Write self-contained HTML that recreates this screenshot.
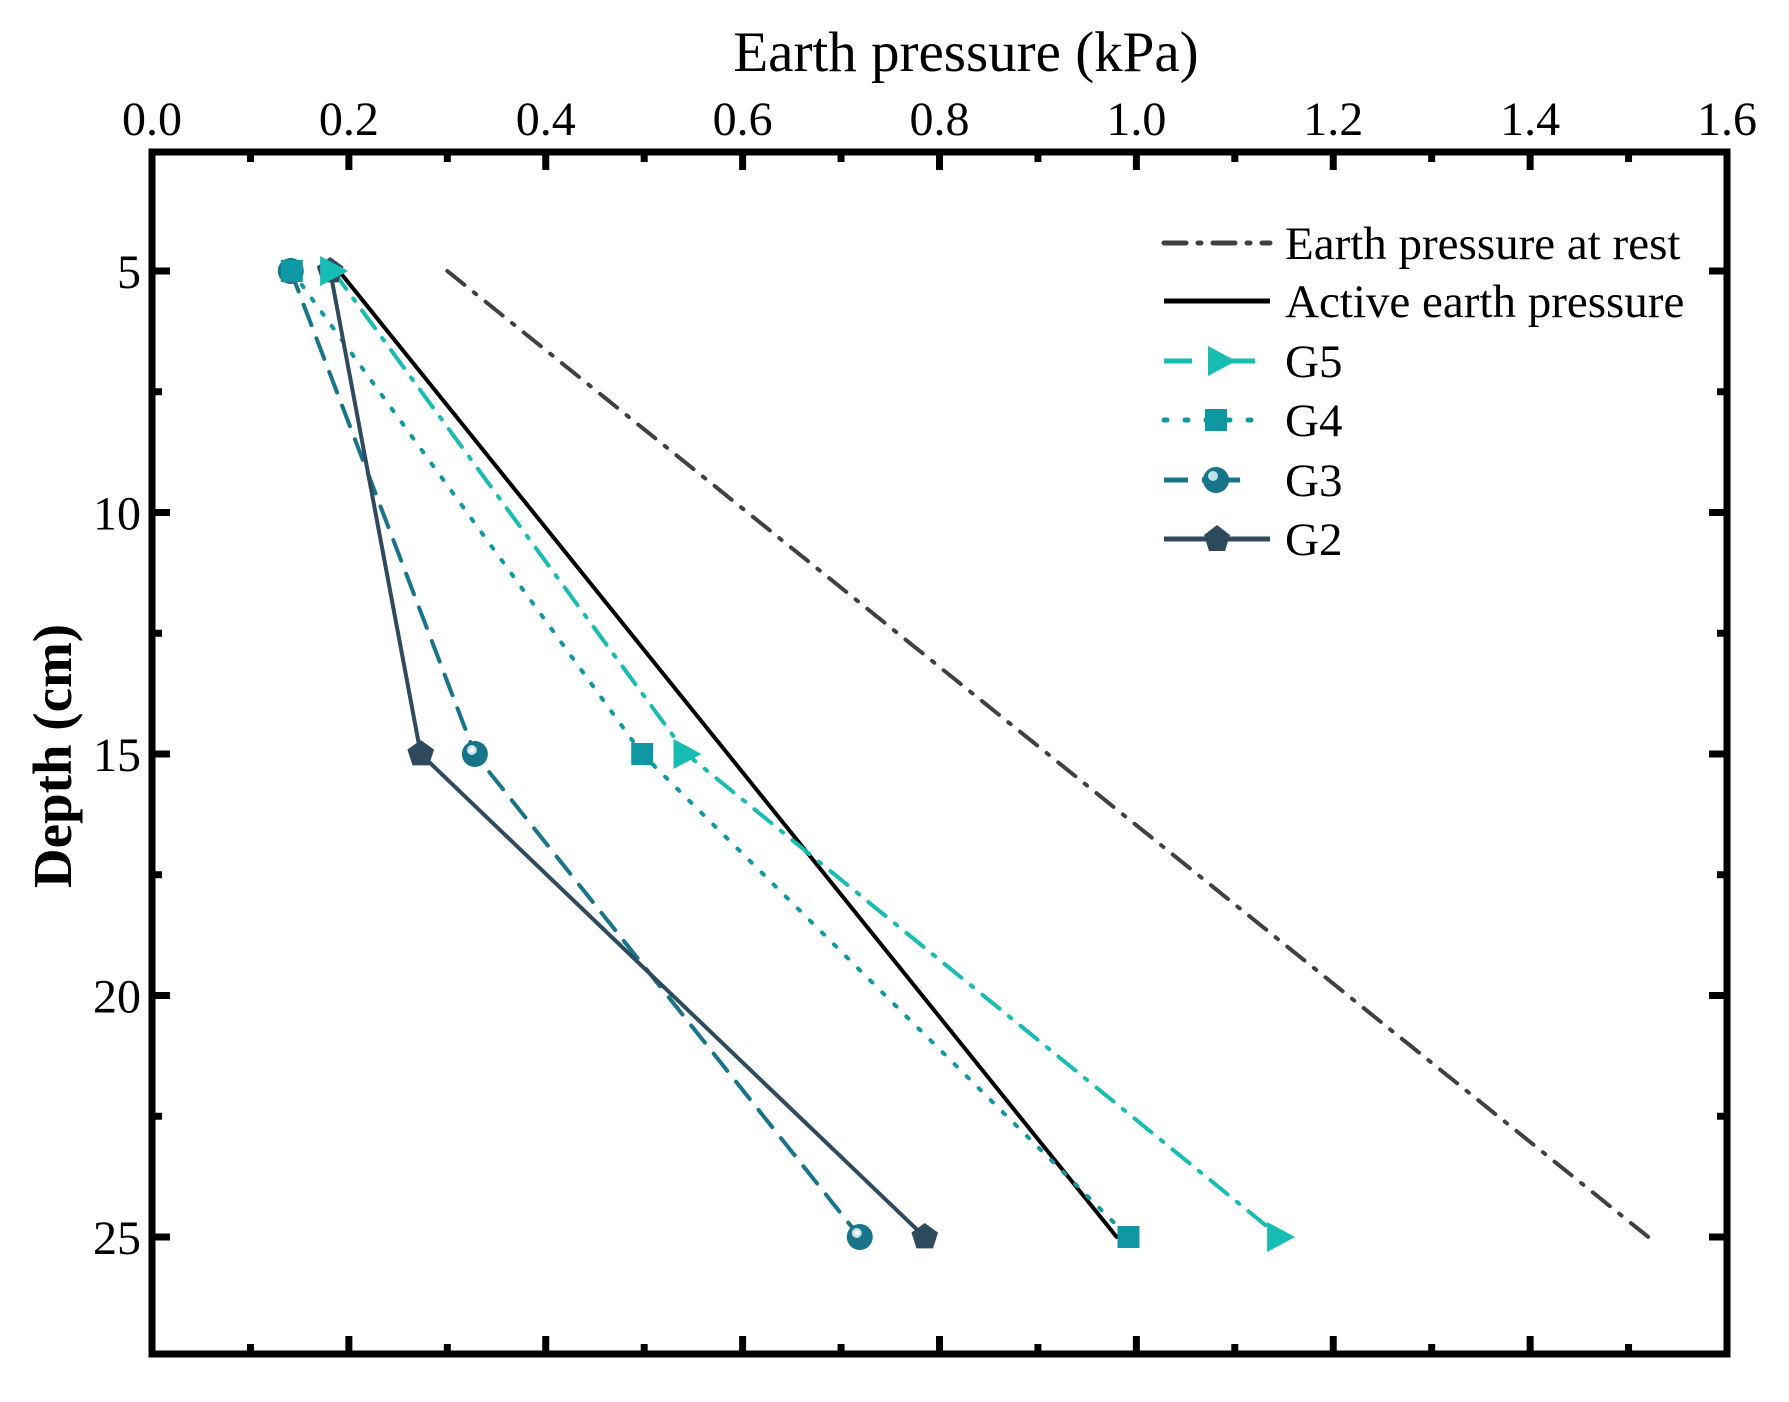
<!DOCTYPE html>
<html><head><meta charset="utf-8"><style>
html,body{margin:0;padding:0;background:#fff}
svg{display:block;font-family:"Liberation Serif",serif}
</style></head><body>
<svg id="chart" width="1789" height="1402" viewBox="0 0 1789 1402" xmlns="http://www.w3.org/2000/svg">
<g id="plot"></g>
<text x="966" y="71" font-size="57" text-anchor="middle" font-family="Liberation Serif, serif">Earth pressure (kPa)</text>
<text transform="translate(71,756) rotate(-90)" font-size="55" font-weight="bold" text-anchor="middle" font-family="Liberation Serif, serif">Depth (cm)</text>
<g font-family="Liberation Serif, serif" font-size="47">
  <g>
    <line x1="1164" y1="243" x2="1270" y2="243" stroke="#404040" stroke-width="5" stroke-dasharray="22,12,3,12" stroke-linecap="round"/>
    <text x="1285" y="259">Earth pressure at rest</text>
  </g>
  <g>
    <line x1="1164" y1="301" x2="1270" y2="301" stroke="#000" stroke-width="5"/>
    <text x="1285" y="317">Active earth pressure</text>
  </g>
  <g>
    <line x1="1164" y1="361" x2="1260" y2="361" stroke="#17BDB2" stroke-width="5" stroke-dasharray="28,16,3,16"/>
    <polygon points="1208,346 1236,361 1208,376" fill="#17BDB2"/>
    <text x="1285" y="377">G5</text>
  </g>
  <g>
    <line x1="1164" y1="420" x2="1266" y2="420" stroke="#0F97A3" stroke-width="5" stroke-dasharray="3,18" stroke-linecap="round"/>
    <rect x="1205" y="409" width="22" height="22" fill="#0F97A3"/>
    <text x="1285" y="436">G4</text>
  </g>
  <g>
    <line x1="1164" y1="480" x2="1188" y2="480" stroke="#177489" stroke-width="5"/>
    <line x1="1202" y1="480" x2="1240" y2="480" stroke="#177489" stroke-width="5"/>
    <circle cx="1216" cy="480" r="13" fill="#177489"/>
    <circle cx="1213" cy="476" r="5" fill="#bfe3ea"/>
    <text x="1285" y="496">G3</text>
  </g>
  <g>
    <line x1="1164" y1="539" x2="1270" y2="539" stroke="#2F4A5C" stroke-width="5"/>
    <polygon points="1217,525 1230,535 1225,551 1209,551 1204,535" fill="#2F4A5C"/>
    <text x="1285" y="555">G2</text>
  </g>
</g>
</svg>
<script>
const depths = [5, 15, 25];
const restX = [0.30, 1.52];
const restD = [5, 25];
const activeX = [0.19, 0.98];
const activeD = [5, 25];
const g5 = [0.184, 0.543, 1.146];
const g4 = [0.142, 0.498, 0.992];
const g3 = [0.141, 0.328, 0.719];
const g2 = [0.181, 0.273, 0.785];
const xTicks = [0.0, 0.2, 0.4, 0.6, 0.8, 1.0, 1.2, 1.4, 1.6];
const xTickLabels = ["0.0","0.2","0.4","0.6","0.8","1.0","1.2","1.4","1.6"];
const yTicks = [5, 10, 15, 20, 25];
const yTickLabels = ["5","10","15","20","25"];

const L=152,R=1727,T=152,B=1354;
function X(v){return L+v*(R-L)/1.6;}
function Y(d){return 271+(d-5)*48.3;}
const NS="http://www.w3.org/2000/svg";
const g=document.getElementById('plot');
function el(tag,attrs,parent){const e=document.createElementNS(NS,tag);for(const k in attrs)e.setAttribute(k,attrs[k]);(parent||g).appendChild(e);return e;}

function line(xs,ds,color,w,dash,name){
  const pts=xs.map((v,i)=>X(v)+','+Y(ds[i])).join(' ');
  const p=el('polyline',{points:pts,fill:'none',stroke:color,'stroke-width':w,'stroke-dasharray':dash||'none','stroke-linecap':'round','stroke-linejoin':'round'});
  
  
}
line(restX,restD,'#404040',4,'22,12,3,12','earth-pressure-at-rest-line');
line(activeX,activeD,'#000',4,null,'active-earth-pressure-line');
line(g5,depths,'#17BDB2',4,'22,12,3,12','g5-line');
line(g4,depths,'#0F97A3',4,'3,14','g4-line');
line(g3,depths,'#177489',4,'22,14','g3-line');
line(g2,depths,'#2F4A5C',4,null,'g2-line');

function marker(type,cx,cy,color,name){
  let m;
  if(type==='tri') m=el('polygon',{points:`${cx-13},${cy-15} ${cx+15},${cy} ${cx-13},${cy+15}`,fill:color});
  else if(type==='sq') m=el('rect',{x:cx-11,y:cy-11,width:22,height:22,fill:color});
  else if(type==='circ'){m=el('g',{});el('circle',{cx:cx,cy:cy,r:13,fill:color},m);el('circle',{cx:cx-3,cy:cy-4,r:5,fill:'#bfe3ea'},m);el('circle',{cx:cx-3,cy:cy-4,r:2.5,fill:'#fff'},m);}
  else {const pts=[];for(let i=0;i<5;i++){const a=-Math.PI/2+i*2*Math.PI/5;pts.push((cx+14*Math.cos(a))+','+(cy+14*Math.sin(a)));}m=el('polygon',{points:pts.join(' '),fill:color});}
  
  
}
g3.forEach((v,i)=>marker('circ',X(v),Y(depths[i]),'#177489','g3-point'));
g4.forEach((v,i)=>marker('sq',X(v),Y(depths[i]),'#0F97A3','g4-point'));
g2.forEach((v,i)=>marker('pent',X(v),Y(depths[i]),'#2F4A5C','g2-point'));
g5.forEach((v,i)=>marker('tri',X(v),Y(depths[i]),'#17BDB2','g5-point'));

const fr=el('rect',{x:L,y:T,width:R-L,height:B-T,fill:'none',stroke:'#000','stroke-width':7});



for(let v=0;v<=16;v++){
  const x=X(v/10),len=(v%2===0)?18:10;
  el('line',{x1:x,y1:T,x2:x,y2:T+len,stroke:'#000','stroke-width':7});
  el('line',{x1:x,y1:B,x2:x,y2:B-len,stroke:'#000','stroke-width':7});
}
xTicks.forEach((v,i)=>{
  const t=el('text',{x:X(v),y:135,'font-size':48,'text-anchor':'middle',fill:'#000'});
  t.textContent=xTickLabels[i];
  
  
});
for(let d=2.5;d<=27.5;d+=2.5){
  const y=Y(d); if(y<T||y>B)continue;
  const len=(d%5===0)?18:10;
  el('line',{x1:L,y1:y,x2:L+len,y2:y,stroke:'#000','stroke-width':7});
  el('line',{x1:R,y1:y,x2:R-len,y2:y,stroke:'#000','stroke-width':7});
}
yTicks.forEach((v,i)=>{
  const t=el('text',{x:141,y:Y(v)+17,'font-size':48,'text-anchor':'end',fill:'#000'});
  t.textContent=yTickLabels[i];
  
  
});
</script>
</body></html>
